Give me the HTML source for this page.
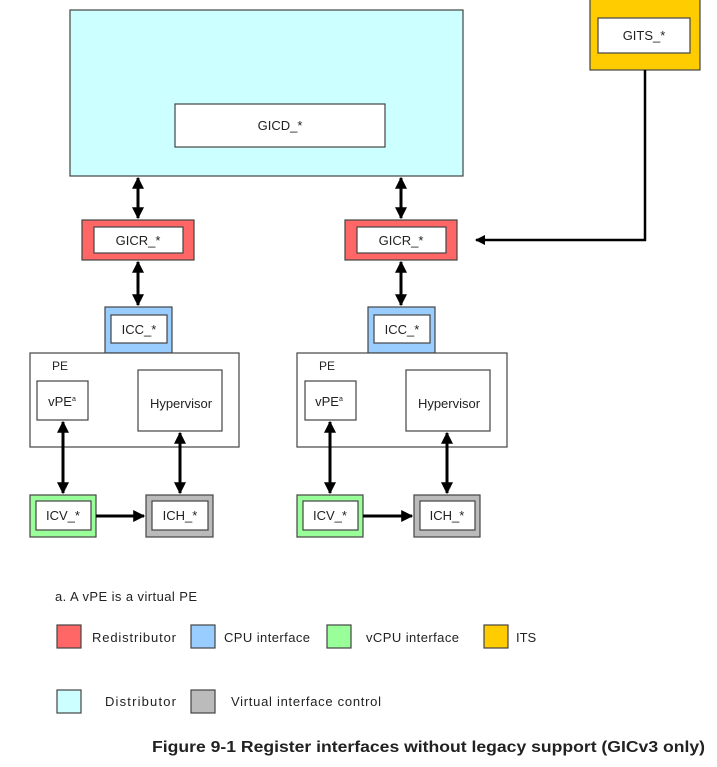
<!DOCTYPE html>
<html><head><style>body{margin:0;background:#fff}svg{display:block}text{font-family:"Liberation Sans",sans-serif;fill:#222}</style></head>
<body>
<svg width="717" height="767" viewBox="0 0 717 767" xmlns="http://www.w3.org/2000/svg">
<defs><marker id="a" viewBox="0 0 10 10" refX="9" refY="5" markerWidth="4" markerHeight="4" orient="auto-start-reverse"><path d="M0,0L10,5L0,10z" fill="#000"/></marker></defs>
<g stroke="#444" stroke-width="1.2">
<rect x="70" y="10" width="393" height="166" fill="#ccffff"/>
<rect x="175" y="104" width="210" height="43" fill="#fff"/>
<rect x="590" y="-2" width="110" height="72" fill="#ffcc00"/>
<rect x="598" y="18" width="92" height="35" fill="#fff"/>
<rect x="82" y="220" width="112" height="40" fill="#ff6666"/><rect x="94" y="227" width="89" height="26" fill="#fff"/>
<rect x="345" y="220" width="112" height="40" fill="#ff6666"/><rect x="357" y="227" width="89" height="26" fill="#fff"/>
<rect x="105" y="307" width="67" height="46" fill="#99ccff"/><rect x="111" y="315" width="56" height="28" fill="#fff"/>
<rect x="368" y="307" width="67" height="46" fill="#99ccff"/><rect x="374" y="315" width="56" height="28" fill="#fff"/>
<rect x="30" y="353" width="209" height="94" fill="#fff"/><rect x="37" y="381" width="51" height="39" fill="#fff"/><rect x="138" y="370" width="84" height="61" fill="#fff"/>
<rect x="297" y="353" width="210" height="94" fill="#fff"/><rect x="305" y="381" width="51" height="39" fill="#fff"/><rect x="406" y="370" width="84" height="61" fill="#fff"/>
<rect x="30" y="495" width="66" height="42" fill="#99ff99"/><rect x="36" y="501" width="55" height="29" fill="#fff"/>
<rect x="146" y="495" width="67" height="42" fill="#bbbbbb"/><rect x="152" y="501" width="56" height="29" fill="#fff"/>
<rect x="297" y="495" width="66" height="42" fill="#99ff99"/><rect x="303" y="501" width="55" height="29" fill="#fff"/>
<rect x="414" y="495" width="66" height="42" fill="#bbbbbb"/><rect x="420" y="501" width="55" height="29" fill="#fff"/>
<rect x="57" y="625" width="24" height="23" fill="#ff6666"/><rect x="191" y="625" width="24" height="23" fill="#99ccff"/>
<rect x="327" y="625" width="24" height="23" fill="#99ff99"/><rect x="484" y="625" width="24" height="23" fill="#ffcc00"/>
<rect x="57" y="690" width="24" height="23" fill="#ccffff"/><rect x="191" y="690" width="24" height="23" fill="#bbbbbb"/>
</g>
<g stroke="#000" stroke-width="3" fill="none" marker-start="url(#a)" marker-end="url(#a)">
<line x1="138" y1="178" x2="138" y2="218"/><line x1="138" y1="262" x2="138" y2="305"/>
<line x1="401" y1="178" x2="401" y2="218"/><line x1="401" y1="262" x2="401" y2="305"/>
<line x1="63" y1="422" x2="63" y2="493"/><line x1="180" y1="433" x2="180" y2="493"/>
<line x1="330" y1="422" x2="330" y2="493"/><line x1="447" y1="433" x2="447" y2="493"/>
</g>
<g stroke="#000" stroke-width="3" fill="none" marker-end="url(#a)">
<line x1="96" y1="516" x2="144" y2="516"/><line x1="363" y1="516" x2="412" y2="516"/>
<polyline points="645,70 645,240 476,240" stroke-width="2.5"/>
</g>
<g font-size="13">
<text x="280" y="130" text-anchor="middle">GICD_*</text>
<text x="644" y="40" text-anchor="middle">GITS_*</text>
<text x="138" y="245" text-anchor="middle">GICR_*</text><text x="401" y="245" text-anchor="middle">GICR_*</text>
<text x="139" y="334" text-anchor="middle">ICC_*</text><text x="402" y="334" text-anchor="middle">ICC_*</text>
<text x="52" y="370" font-size="12">PE</text><text x="319" y="370" font-size="12">PE</text>
<text x="62" y="406" text-anchor="middle">vPE<tspan font-size="7" dy="-5">a</tspan></text>
<text x="329" y="406" text-anchor="middle">vPE<tspan font-size="7" dy="-5">a</tspan></text>
<text x="181" y="408" text-anchor="middle">Hypervisor</text><text x="449" y="408" text-anchor="middle">Hypervisor</text>
<text x="63" y="520" text-anchor="middle">ICV_*</text><text x="180" y="520" text-anchor="middle">ICH_*</text>
<text x="330" y="520" text-anchor="middle">ICV_*</text><text x="447" y="520" text-anchor="middle">ICH_*</text>
<text x="55" y="601" textLength="142">a. A vPE is a virtual PE</text>
<text x="92" y="642" textLength="84">Redistributor</text><text x="224" y="642" textLength="86">CPU interface</text>
<text x="366" y="642" textLength="93">vCPU interface</text><text x="516" y="642">ITS</text>
<text x="105" y="706" textLength="71">Distributor</text><text x="231" y="706" textLength="150">Virtual interface control</text>
</g>
<text x="152" y="752" font-size="15.5" font-weight="bold" fill="#000" textLength="553" lengthAdjust="spacingAndGlyphs">Figure 9-1 Register interfaces without legacy support (GICv3 only)</text>
</svg>
</body></html>
